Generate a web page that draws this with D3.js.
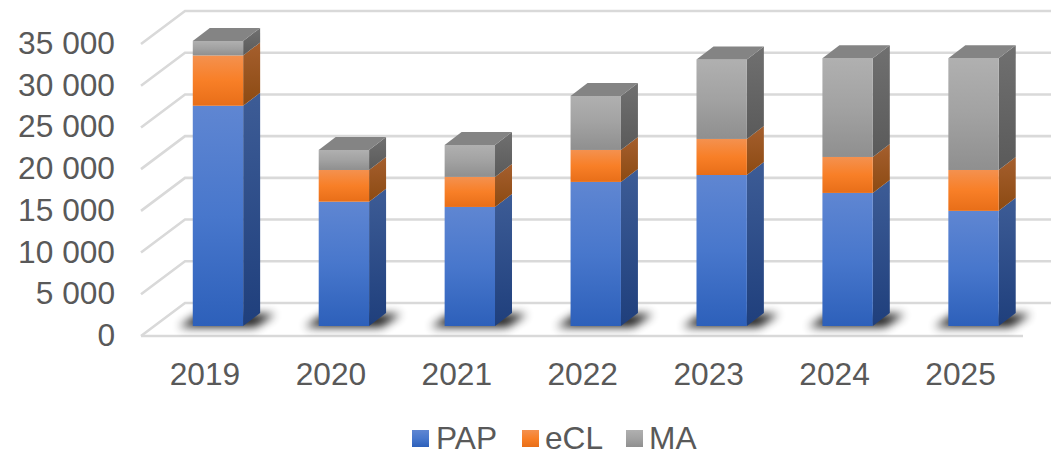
<!DOCTYPE html>
<html><head><meta charset="utf-8">
<script src="https://cdn.jsdelivr.net/npm/d3@7/dist/d3.min.js"></script>
<style>html,body{margin:0;padding:0;background:#fff}svg{display:block}text{font-family:"Liberation Sans",Arial,sans-serif;fill:#595959}</style>
</head><body><svg id="c" width="1051" height="452"></svg>
<script>
const years=["2019","2020","2021","2022","2023","2024","2025"];
const PAP=[26400,14900,14270,17270,18100,15950,13800];
const eCL=[6030,3800,3600,3830,4320,4310,4900];
const MA=[1740,2400,3830,6480,9530,11840,13400];
const seriesNames=["PAP","eCL","MA"];
const seriesValues=[PAP,eCL,MA];
const yTicks=[0,5000,10000,15000,20000,25000,30000,35000];
const palette=[
 {top:"#5f86d2",mid:"#4877cc",bot:"#2d60ba",sideTop:"#3d5c96",sideBot:"#1f3f7c",cap:"#3f5f9a"},
 {top:"#f4914f",mid:"#f87f27",bot:"#e86e18",sideTop:"#a55f2e",sideBot:"#8c4a12",cap:"#a55f2e"},
 {top:"#b0b0b0",mid:"#a2a2a2",bot:"#8f8f8f",sideTop:"#707070",sideBot:"#5a5a5a",cap:"#848484"}];

const svg=d3.select("#c");
const defs=svg.append("defs");
palette.forEach((p,i)=>{
 const g=defs.append("linearGradient").attr("id","f"+i).attr("x1",0).attr("x2",0).attr("y1",0).attr("y2",1);
 g.append("stop").attr("offset","0%").attr("stop-color",p.top);g.append("stop").attr("offset","50%").attr("stop-color",p.mid);g.append("stop").attr("offset","100%").attr("stop-color",p.bot);
 const s=defs.append("linearGradient").attr("id","s"+i).attr("x1",0).attr("x2",0).attr("y1",0).attr("y2",1);
 s.append("stop").attr("offset","0%").attr("stop-color",p.sideTop);s.append("stop").attr("offset","100%").attr("stop-color",p.sideBot);
});

// plot geometry
const floorDx=44,floorDy=-33,barDx=17,barDy=-13;
const xFloor=d3.scaleLinear().domain([0,1]).range([141,1023]);
const yBack=d3.scaleLinear().domain([0,35000]).range([303,11]);
const barY=v=>yBack(v)+23;
const x=d3.scaleBand().domain(years).range([155,1036.5]).paddingInner(0.6).paddingOuter(0.3);
const grid="#d9d9d9";

// walls
const wall=svg.append("g").attr("stroke",grid).attr("stroke-width",2.6).attr("fill","none");
yTicks.forEach(t=>{
 const y=yBack(t);
 wall.append("path").attr("d",d3.line()([[xFloor(0),y-floorDy],[xFloor(0)+floorDx,y],[xFloor(1)+floorDx,y]]));
});
wall.append("line").attr("x1",xFloor(0)).attr("x2",xFloor(1)).attr("y1",yBack(0)-floorDy).attr("y2",yBack(0)-floorDy);

// y labels
svg.append("g").selectAll("text").data(yTicks).join("text")
 .attr("x",115).attr("y",d=>yBack(d)-floorDy+10).attr("text-anchor","end").attr("font-size",31.7)
 .text(d=>d3.format(",")(d).replace(",", " "));
// x labels
svg.append("g").selectAll("text").data(years).join("text")
 .attr("x",d=>x(d)+x.bandwidth()/2-13).attr("y",385).attr("text-anchor","middle").attr("font-size",31.7).text(d=>d);

// shadows
svg.append("g").selectAll("path").data(years).join("path")
 .attr("d",d=>{const l=x(d)-14,r=x(d)+x.bandwidth()+12,b=barY(0)+1;
   return d3.line()([[l,b],[r,b],[r+20,b-13],[l+20,b-13]])+"Z";})
 .attr("fill","#000").attr("opacity",0.9).style("filter","blur(5px)");

// bars
const bars=svg.append("g");
years.forEach((yr,i)=>{
 const g=bars.append("g");
 const l=x(yr),r=l+x.bandwidth();
 let acc=0;
 seriesValues.forEach((vals,s)=>{
  const y0=barY(acc),y1=barY(acc+vals[i]);
  g.append("path").attr("d",d3.line()([[r,y0],[r+barDx,y0+barDy],[r+barDx,y1+barDy],[r,y1]])+"Z").attr("fill",`url(#s${s})`);
  g.append("rect").attr("x",l).attr("y",y1).attr("width",r-l).attr("height",y0-y1).attr("fill",`url(#f${s})`);
  acc+=vals[i];
  if(s===seriesValues.length-1){
   g.append("path").attr("d",d3.line()([[l,y1],[l+barDx,y1+barDy],[r+barDx,y1+barDy],[r,y1]])+"Z").attr("fill",palette[s].cap);
  }
 });
});

// legend
const legendX=[412,522,626],textX=[436,545,649];
const lg=svg.append("g");
seriesNames.forEach((n,i)=>{
 lg.append("rect").attr("x",legendX[i]).attr("y",430).attr("width",17).attr("height",17).attr("fill",`url(#f${i})`);
 lg.append("text").attr("x",textX[i]).attr("y",449).attr("font-size",31.7).text(n);
});
</script></body></html>
